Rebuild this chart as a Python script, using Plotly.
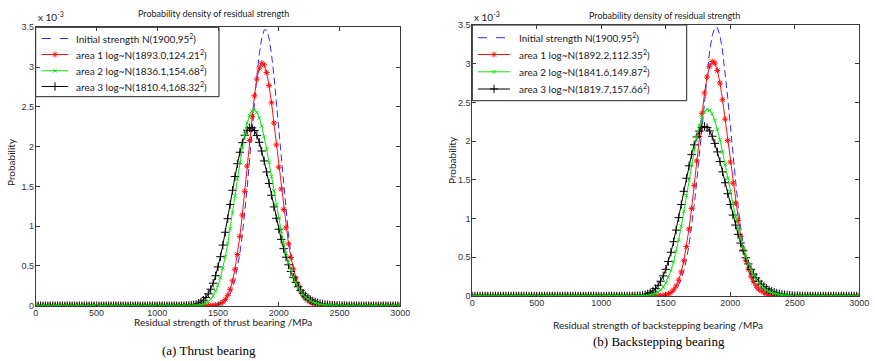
import plotly.graph_objects as go

# x grid (MPa)
strength = list(range(0, 3001, 20))

# densities in units of 1e-3, listed from 1200 MPa to 2600 MPa in steps of 20 (zero elsewhere)
initial_strength = [0, 0, 0, 0, 0, 0, 0, 0, 0, 0,
    0.000, 0.001, 0.002, 0.003, 0.006, 0.011, 0.020, 0.034, 0.057, 0.092,
    0.145, 0.221, 0.328, 0.471, 0.657, 0.889, 1.167, 1.486, 1.837, 2.202,
    2.562, 2.892, 3.166, 3.364, 3.467, 3.467, 3.364, 3.166, 2.892, 2.562,
    2.202, 1.837, 1.486, 1.167, 0.889, 0.657, 0.471, 0.328, 0.221, 0.145,
    0.092, 0.057, 0.034, 0.020, 0.011, 0.006, 0.003, 0.002, 0.001, 0.000]

thrust_area1 = [0, 0, 0, 0, 0, 0, 0, 0, 0, 0,
    0.000, 0.001, 0.001, 0.003, 0.007, 0.013, 0.025, 0.045, 0.079, 0.130,
    0.206, 0.313, 0.458, 0.643, 0.872, 1.139, 1.438, 1.756, 2.075, 2.376,
    2.640, 2.848, 2.987, 3.048, 3.028, 2.931, 2.768, 2.552, 2.298, 2.022,
    1.741, 1.467, 1.211, 0.980, 0.778, 0.606, 0.463, 0.348, 0.257, 0.186,
    0.133, 0.094, 0.065, 0.044, 0.030, 0.020, 0.013, 0.008, 0.005, 0.003,
    0.002, 0.001]

thrust_area2 = [0.000, 0.000, 0.000, 0.000, 0.001, 0.002, 0.003, 0.006, 0.011, 0.019,
    0.032, 0.052, 0.081, 0.123, 0.180, 0.255, 0.352, 0.471, 0.615, 0.781,
    0.968, 1.170, 1.382, 1.595, 1.802, 1.992, 2.159, 2.294, 2.391, 2.446,
    2.459, 2.430, 2.361, 2.258, 2.126, 1.972, 1.802, 1.624, 1.443, 1.266,
    1.096, 0.937, 0.792, 0.661, 0.546, 0.446, 0.360, 0.288, 0.228, 0.179,
    0.139, 0.107, 0.081, 0.062, 0.046, 0.034, 0.025, 0.019, 0.013, 0.010,
    0.007, 0.005, 0.004, 0.002, 0.002, 0.001, 0.001]

thrust_area3 = [0.000, 0.001, 0.002, 0.004, 0.006, 0.011, 0.018, 0.030, 0.046, 0.070,
    0.104, 0.149, 0.208, 0.283, 0.376, 0.487, 0.616, 0.762, 0.923, 1.094,
    1.272, 1.451, 1.624, 1.785, 1.929, 2.050, 2.143, 2.206, 2.237, 2.235,
    2.202, 2.141, 2.054, 1.945, 1.820, 1.682, 1.537, 1.389, 1.242, 1.099,
    0.962, 0.834, 0.717, 0.610, 0.514, 0.430, 0.357, 0.293, 0.239, 0.194,
    0.156, 0.124, 0.098, 0.077, 0.060, 0.047, 0.036, 0.028, 0.021, 0.016,
    0.012, 0.009, 0.007, 0.005, 0.004, 0.003, 0.002, 0.001, 0.001, 0.001]

back_area1 = [0, 0, 0, 0, 0, 0, 0, 0, 0, 0,
    0.000, 0.001, 0.001, 0.003, 0.007, 0.013, 0.025, 0.045, 0.078, 0.129,
    0.205, 0.311, 0.455, 0.639, 0.866, 1.131, 1.429, 1.744, 2.061, 2.360,
    2.623, 2.829, 2.967, 3.028, 3.008, 2.912, 2.750, 2.535, 2.283, 2.009,
    1.730, 1.457, 1.203, 0.974, 0.773, 0.602, 0.460, 0.346, 0.255, 0.185,
    0.132, 0.093, 0.065, 0.044, 0.030, 0.020, 0.013, 0.008, 0.005, 0.003,
    0.002, 0.001]

back_area2 = [0.000, 0.000, 0.000, 0.000, 0.000, 0.001, 0.002, 0.003, 0.006, 0.011,
    0.019, 0.031, 0.050, 0.077, 0.115, 0.168, 0.238, 0.328, 0.439, 0.572,
    0.727, 0.902, 1.093, 1.295, 1.500, 1.701, 1.890, 2.059, 2.200, 2.308,
    2.379, 2.409, 2.399, 2.351, 2.267, 2.154, 2.017, 1.861, 1.694, 1.522,
    1.349, 1.181, 1.022, 0.873, 0.738, 0.617, 0.510, 0.417, 0.338, 0.271,
    0.215, 0.169, 0.132, 0.102, 0.078, 0.059, 0.045, 0.034, 0.025, 0.018,
    0.013, 0.010, 0.007, 0.005, 0.004, 0.003, 0.002, 0.001, 0.001]

back_area3 = [0.000, 0.000, 0.001, 0.002, 0.003, 0.006, 0.010, 0.017, 0.028, 0.043,
    0.065, 0.096, 0.137, 0.191, 0.260, 0.345, 0.446, 0.565, 0.701, 0.851,
    1.012, 1.181, 1.352, 1.521, 1.681, 1.826, 1.952, 2.054, 2.129, 2.175,
    2.190, 2.175, 2.132, 2.063, 1.971, 1.861, 1.737, 1.603, 1.463, 1.321,
    1.181, 1.045, 0.916, 0.796, 0.684, 0.584, 0.494, 0.414, 0.345, 0.284,
    0.233, 0.190, 0.153, 0.123, 0.098, 0.077, 0.061, 0.048, 0.037, 0.029,
    0.022, 0.017, 0.013, 0.010, 0.007, 0.005, 0.004, 0.003, 0.002, 0.001, 0.001]

thrust_names = ["Initial strength N(1900,95<sup>2</sup>)",
                "area 1 log~N(1893.0,124.21<sup>2</sup>)",
                "area 2 log~N(1836.1,154.68<sup>2</sup>)",
                "area 3 log~N(1810.4,168.32<sup>2</sup>)"]
back_names = ["Initial strength N(1900,95<sup>2</sup>)",
              "area 1 log~N(1892.2,112.35<sup>2</sup>)",
              "area 2 log~N(1841.6,149.87<sup>2</sup>)",
              "area 3 log~N(1819.7,157.66<sup>2</sup>)"]

x_ticks = [0, 500, 1000, 1500, 2000, 2500, 3000]
y_ticks = [0, 0.5, 1, 1.5, 2, 2.5, 3, 3.5]
X_MAX, Y_MAX = 3000, 3.5

W, H = 875, 361
START = 60  # index of 1200 MPa in grid


def full(window):
    return [0.0] * START + list(window) + [0.0] * (len(strength) - START - len(window))


def px(x):
    return x / W


def py(y):
    return 1 - y / H


fig = go.Figure()

BLUE, RED, GREEN, BLACK = "#2b2bff", "#ff1010", "#10e010", "#000000"
line_styles = [dict(color=BLUE, width=1, dash="7px,4px"), dict(color=RED, width=1),
               dict(color=GREEN, width=1), dict(color=BLACK, width=1)]
marker_styles = [None,
                 dict(symbol="asterisk-open", size=5, color=RED, line=dict(width=1, color=RED)),
                 dict(symbol="x-thin-open", size=3.5, color=GREEN, line=dict(width=1, color=GREEN)),
                 dict(symbol="cross-thin-open", size=6, color=BLACK, line=dict(width=1, color=BLACK))]

# panel boxes in pixels
L = dict(x0=35.7, x1=400.3, y0=27.3, y1=305.7)
R = dict(x0=472.3, x1=859.3, y0=25.0, y1=296.0)

order = [0, 1, 3, 2]  # green drawn last (on top)
panels = [([initial_strength, thrust_area1, thrust_area2, thrust_area3], "x", "y", L),
          ([initial_strength, back_area1, back_area2, back_area3], "x2", "y2", R)]
for series, xa, ya, box in panels:
    for k in order:
        kw = dict(mode="lines", line=line_styles[k])
        if marker_styles[k]:
            kw = dict(mode="lines+markers", line=line_styles[k], marker=marker_styles[k])
        fig.add_trace(go.Scatter(x=strength, y=full(series[k]), xaxis=xa, yaxis=ya,
                                 showlegend=False, hoverinfo="skip", **kw))

axis_common = dict(showgrid=False, zeroline=False, showline=True, linecolor="#3a3a3a", linewidth=1,
                   mirror="allticks", ticks="inside", ticklen=4, tickcolor="#3a3a3a", tickwidth=1,
                   automargin=False,
                   tickfont=dict(family="Liberation Sans, Arial", size=9, color="#333333"))

fig.update_layout(
    width=W, height=H, margin=dict(l=0, r=0, t=0, b=0, autoexpand=False),
    paper_bgcolor="white", plot_bgcolor="white", showlegend=False,
    xaxis=dict(domain=[px(L["x0"]), px(L["x1"])], range=[0, X_MAX], tickvals=x_ticks, anchor="y",
               ticklabelstandoff=-2, **axis_common),
    yaxis=dict(domain=[py(L["y1"]), py(L["y0"])], range=[0, Y_MAX], tickvals=y_ticks, anchor="x",
               ticklabelstandoff=-1, **axis_common),
    xaxis2=dict(domain=[px(R["x0"]), px(R["x1"])], range=[0, X_MAX], tickvals=x_ticks, anchor="y2",
                ticklabelstandoff=-2, **axis_common),
    yaxis2=dict(domain=[py(R["y1"]), py(R["y0"])], range=[0, Y_MAX], tickvals=y_ticks, anchor="x2",
                ticklabelstandoff=-1, **axis_common),
)

# ---- legends (drawn by hand to match the compact MATLAB legend) ----
legends = [
    dict(box=(35.7, 27.3, 219.0, 96.7), rows=[38.5, 54.5, 70.8, 86.5], line=(41.7, 68.3), text_x=74,
         names=thrust_names, axes=("x", "y"), panel=L),
    dict(box=(472.3, 25.0, 686.7, 100.7), rows=[37.7, 54.5, 71.8, 89.0], line=(478.0, 510.0), text_x=517,
         names=back_names, axes=("x2", "y2"), panel=R),
]
legend_font = dict(family="Lato", size=10, color="#222222")
for lg in legends:
    x0, y0, x1, y1 = lg["box"]
    fig.add_shape(type="rect", xref="paper", yref="paper", x0=px(x0), x1=px(x1), y0=py(y1), y1=py(y0),
                  line=dict(color="#222222", width=1), fillcolor="white", layer="below")
    for k, yy in enumerate(lg["rows"]):
        ls = dict(line_styles[k])
        if "dash" in ls:
            ls["dash"] = "dash"
        fig.add_shape(type="line", xref="paper", yref="paper", x0=px(lg["line"][0]), x1=px(lg["line"][1]),
                      y0=py(yy), y1=py(yy), line=ls, layer="above")
        fig.add_annotation(x=px(lg["text_x"]), y=py(yy), xref="paper", yref="paper", text=lg["names"][k],
                           showarrow=False, font=legend_font, xanchor="left", yanchor="middle")
    # sample markers at the centre of each legend line (pixel -> axis units of that panel)
    p = lg["panel"]
    mx = (lg["line"][0] + lg["line"][1]) / 2
    for k in [1, 2, 3]:
        dx = (mx - p["x0"]) / (p["x1"] - p["x0"]) * X_MAX
        dy = (p["y1"] - lg["rows"][k]) / (p["y1"] - p["y0"]) * Y_MAX
        fig.add_trace(go.Scatter(x=[dx], y=[dy], xaxis=lg["axes"][0], yaxis=lg["axes"][1], mode="markers",
                                 marker=marker_styles[k], showlegend=False, hoverinfo="skip"))

label_font = dict(family="Lato", size=10, color="#222222")
title_font = dict(family="Lato", size=9, color="#222222")
caption_font = dict(family="Liberation Serif", size=13, color="#000000")
ann = [
    (213.8, 13.3, "Probability density of residual strength", 0, title_font, "center"),
    (36, 17, "x 10<sup>-3</sup>", 0, label_font, "left"),
    (11, 162, "Probability", -90, label_font, "center"),
    (223, 322.3, "Residual strength of thrust bearing /MPa", 0, label_font, "center"),
    (209, 350.7, "(a) Thrust bearing", 0, caption_font, "center"),
    (664, 15, "Probability density of residual strength", 0, title_font, "center"),
    (472, 16, "x 10<sup>-3</sup>", 0, label_font, "left"),
    (452, 160, "Probability", -90, label_font, "center"),
    (657.5, 325, "Residual strength of backstepping bearing /MPa", 0, label_font, "center"),
    (659, 341.7, "(b) Backstepping bearing", 0, caption_font, "center"),
]
for x, y, t, rot, f, xa in ann:
    fig.add_annotation(x=px(x), y=py(y), xref="paper", yref="paper", text=t, showarrow=False,
                       textangle=rot, font=f, xanchor=xa, yanchor="middle")

fig.write_html("out.html", config={"displayModeBar": False},
               post_script="document.body.style.margin='0';")
